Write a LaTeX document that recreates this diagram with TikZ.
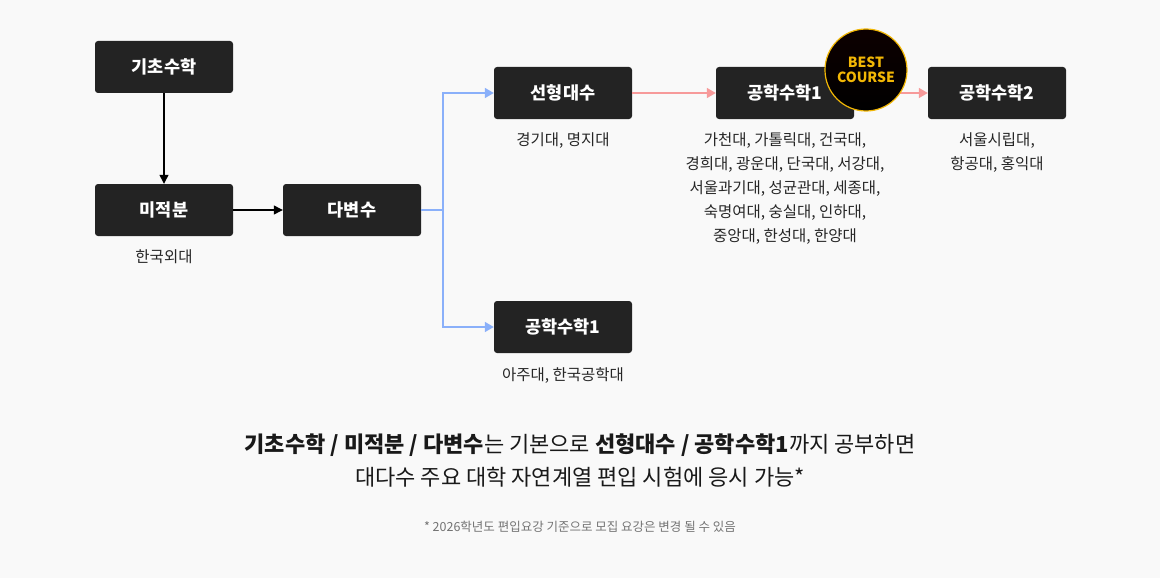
\documentclass[tikz,border=0pt]{standalone}
\usepackage{fontspec}
\setmainfont{Noto Sans CJK KR}
\usetikzlibrary{arrows.meta}
\definecolor{boxfill}{HTML}{232323}
\definecolor{bgcol}{HTML}{F9F9F9}
\definecolor{bluearr}{HTML}{8AB0FA}
\definecolor{redarr}{HTML}{F79A9A}
\definecolor{gold}{HTML}{F2B705}
\tikzset{
  course/.style={fill=boxfill, rounded corners=3pt, minimum width=138pt, minimum height=52pt,
    text=white, font=\fontsize{17.5}{20}\selectfont\bfseries, inner sep=0pt},
  school/.style={align=center, font=\fontsize{15.5}{24}\selectfont, text=black!85, anchor=north},
  blk/.style={-{Triangle[length=9pt,width=9pt]}, line width=1.3pt},
  blu/.style={bluearr, line width=1.5pt, -{Triangle[length=9pt,width=10pt]}},
  rd/.style={redarr, line width=1.5pt, -{Triangle[length=9pt,width=10pt]}}
}
\begin{document}
\begin{tikzpicture}[x=1pt,y=-1pt]
  \fill[bgcol] (0,0) rectangle (1160,578);
  \useasboundingbox (0,0) rectangle (1160,578);
  % courses
  \node[course] (basic) at (164,67) {기초수학};
  \node[course] (calc) at (164,210) {미적분};
  \node[course] (multi) at (352,210) {다변수};
  \node[course] (linalg) at (563,93) {선형대수};
  \node[course] (eng1low) at (563,327) {공학수학1};
  \node[course] (eng1) at (785,93) {공학수학1};
  \node[course] (eng2) at (997,93) {공학수학2};
  % schools
  \node[school] at (164,246) {한국외대};
  \node[school] at (563,129) {경기대, 명지대};
  \node[school] at (563,364) {아주대, 한국공학대};
  \node[school] at (785,129) {가천대, 가톨릭대, 건국대,\\경희대, 광운대, 단국대, 서강대,\\서울과기대, 성균관대, 세종대,\\숙명여대, 숭실대, 인하대,\\중앙대, 한성대, 한양대};
  \node[school] at (997,129) {서울시립대,\\항공대, 홍익대};
  % arrows
  \draw[blk] (basic) -- (calc);
  \draw[blk] (calc) -- (multi);
  \coordinate (split) at (443,210);
  \draw[bluearr, line width=1.5pt] (multi) -- (split);
  \draw[blu] (split) |- (linalg);
  \draw[blu] (split) |- (eng1low);
  \draw[rd] (linalg) -- (eng1);
  \draw[rd] (eng1) -- (eng2);
  % badge
  \shade[top color=black!75!red!20!black, bottom color=black] (866,70) circle (41);
  \draw[gold, line width=1.2pt] (866,70) circle (41);
  \node[text=gold, align=center, font=\fontsize{14}{15}\selectfont\bfseries] (badge) at (866,70) {BEST\\COURSE};
  % summary
  \node[align=center, font=\fontsize{22}{33}\selectfont, text=black!90] (summary) at (580,461)
    {\textbf{기초수학 / 미적분 / 다변수}는 기본으로 \textbf{선형대수 / 공학수학1}까지 공부하면\\대다수 주요 대학 자연계열 편입 시험에 응시 가능*};
  \node[font=\fontsize{12.5}{14}\selectfont, text=black!55] (note) at (580,527) {* 2026학년도 편입요강 기준으로 모집 요강은 변경 될 수 있음};
\end{tikzpicture}
\end{document}
